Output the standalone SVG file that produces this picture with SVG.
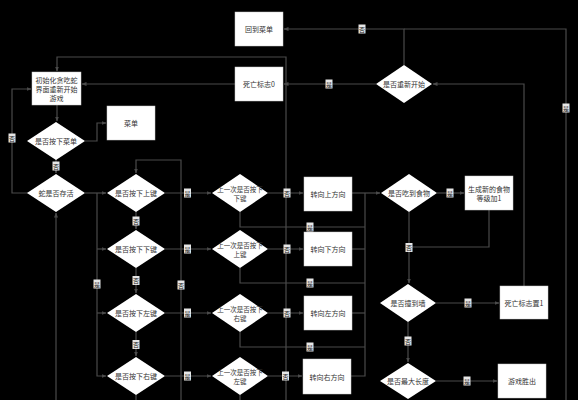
<svg xmlns="http://www.w3.org/2000/svg" width="578" height="400" viewBox="0 0 578 400">
<style>
.bg{fill:#000}
.box{fill:#fff;stroke:#ccc;stroke-width:0.5}
.dia{fill:#fff}
.t{font-family:"Noto Sans CJK SC","Liberation Sans",sans-serif;font-size:7px;fill:#333;text-anchor:middle;dominant-baseline:central}
.t2{font-size:6.5px}
.ln{fill:none;stroke:#4a4a4a;stroke-width:1.2}
.lb rect{fill:#e6e6e6}
.lb text{font-family:"Noto Sans CJK SC","Liberation Sans",sans-serif;font-size:6px;fill:#222;text-anchor:middle;dominant-baseline:central}
</style>
<defs>
<marker id="a" viewBox="0 0 10 10" refX="9" refY="5" markerWidth="5" markerHeight="5" orient="auto" markerUnits="userSpaceOnUse">
<path d="M0,1 L10,5 L0,9 z" fill="#4a4a4a"/>
</marker>
</defs>
<rect class="bg" width="578" height="400"/>
<g id="connectors">
<path class="ln" d="M404,65 V29 H284" marker-end="url(#a)"/>
<path class="ln" d="M404,29 H566 V400"/>
<path class="ln" d="M376,84 H284" marker-end="url(#a)"/>
<path class="ln" d="M235,84 H82" marker-end="url(#a)"/>
<path class="ln" d="M286,400 V57 H57 V71" marker-end="url(#a)"/>
<path class="ln" d="M524,286 V84 H433" marker-end="url(#a)"/>
<path class="ln" d="M28,193 H12 V89 H31" marker-end="url(#a)"/>
<path class="ln" d="M57,105 V121" marker-end="url(#a)"/>
<path class="ln" d="M85,141 H97 V123 H106" marker-end="url(#a)"/>
<path class="ln" d="M56,159 V173" marker-end="url(#a)"/>
<path class="ln" d="M85,193 H106" marker-end="url(#a)"/>
<path class="ln" d="M97,193 V376 H106" marker-end="url(#a)"/>
<path class="ln" d="M97,249 H106" marker-end="url(#a)"/>
<path class="ln" d="M97,313 H106" marker-end="url(#a)"/>
<path class="ln" d="M56,400 V213" marker-end="url(#a)"/>
<path class="ln" d="M136,212 V229" marker-end="url(#a)"/>
<path class="ln" d="M136,268 V293" marker-end="url(#a)"/>
<path class="ln" d="M136,332 V356" marker-end="url(#a)"/>
<path class="ln" d="M136,395 V400"/>
<path class="ln" d="M181,400 V160 H136 V173" marker-end="url(#a)"/>
<path class="ln" d="M165,193 H211" marker-end="url(#a)"/>
<path class="ln" d="M165,249 H211" marker-end="url(#a)"/>
<path class="ln" d="M165,313 H211" marker-end="url(#a)"/>
<path class="ln" d="M165,376 H211" marker-end="url(#a)"/>
<path class="ln" d="M268,193 H303" marker-end="url(#a)"/>
<path class="ln" d="M268,249 H303" marker-end="url(#a)"/>
<path class="ln" d="M268,313 H303" marker-end="url(#a)"/>
<path class="ln" d="M268,376 H302" marker-end="url(#a)"/>
<path class="ln" d="M240,212 V227 H365"/>
<path class="ln" d="M240,268 V283 H365"/>
<path class="ln" d="M240,332 V347 H365"/>
<path class="ln" d="M240,395 V400"/>
<path class="ln" d="M352,193 H380" marker-end="url(#a)"/>
<path class="ln" d="M365,193 V376 H351"/>
<path class="ln" d="M352,249 H365"/>
<path class="ln" d="M352,313 H365"/>
<path class="ln" d="M437,193 H464" marker-end="url(#a)"/>
<path class="ln" d="M409,212 V283" marker-end="url(#a)"/>
<path class="ln" d="M489,210 V247 H409"/>
<path class="ln" d="M436,303 H499" marker-end="url(#a)"/>
<path class="ln" d="M408,322 V362" marker-end="url(#a)"/>
<path class="ln" d="M436,381 H497" marker-end="url(#a)"/>
</g>
<g id="labels">
<g class="lb"><rect x="358.5" y="24.5" width="7" height="9"/><text x="362" y="29">否</text></g>
<g class="lb"><rect x="562.5" y="103.5" width="7" height="9"/><text x="566" y="108">是</text></g>
<g class="lb"><rect x="325.5" y="79.5" width="7" height="9"/><text x="329" y="84">是</text></g>
<g class="lb"><rect x="8.5" y="133.5" width="7" height="9"/><text x="12" y="138">否</text></g>
<g class="lb"><rect x="52.5" y="161.5" width="7" height="9"/><text x="56" y="166">否</text></g>
<g class="lb"><rect x="93.5" y="279.5" width="7" height="9"/><text x="97" y="284">是</text></g>
<g class="lb"><rect x="132.5" y="216.5" width="7" height="9"/><text x="136" y="221">否</text></g>
<g class="lb"><rect x="132.5" y="276" width="7" height="9"/><text x="136" y="280.5">否</text></g>
<g class="lb"><rect x="132.5" y="340" width="7" height="9"/><text x="136" y="344.5">否</text></g>
<g class="lb"><rect x="177.5" y="280.5" width="7" height="9"/><text x="181" y="285">否</text></g>
<g class="lb"><rect x="184" y="188.5" width="7" height="9"/><text x="187.5" y="193">是</text></g>
<g class="lb"><rect x="184" y="244.5" width="7" height="9"/><text x="187.5" y="249">是</text></g>
<g class="lb"><rect x="184" y="308.5" width="7" height="9"/><text x="187.5" y="313">是</text></g>
<g class="lb"><rect x="184" y="371.5" width="7" height="9"/><text x="187.5" y="376">是</text></g>
<g class="lb"><rect x="283.5" y="188.5" width="7" height="9"/><text x="287" y="193">否</text></g>
<g class="lb"><rect x="283.5" y="244.5" width="7" height="9"/><text x="287" y="249">否</text></g>
<g class="lb"><rect x="283.5" y="308.5" width="7" height="9"/><text x="287" y="313">否</text></g>
<g class="lb"><rect x="282" y="371.5" width="7" height="9"/><text x="285.5" y="376">否</text></g>
<g class="lb"><rect x="306.5" y="222.5" width="7" height="9"/><text x="310" y="227">是</text></g>
<g class="lb"><rect x="306.5" y="278.5" width="7" height="9"/><text x="310" y="283">是</text></g>
<g class="lb"><rect x="306.5" y="342.5" width="7" height="9"/><text x="310" y="347">是</text></g>
<g class="lb"><rect x="446.5" y="188.5" width="7" height="9"/><text x="450" y="193">是</text></g>
<g class="lb"><rect x="405.5" y="243" width="7" height="9"/><text x="409" y="247.5">否</text></g>
<g class="lb"><rect x="464.5" y="298.5" width="7" height="9"/><text x="468" y="303">是</text></g>
<g class="lb"><rect x="404.5" y="336.5" width="7" height="9"/><text x="408" y="341">否</text></g>
<g class="lb"><rect x="463.5" y="376.5" width="7" height="9"/><text x="467" y="381">是</text></g>
</g>
<g id="n_back_menu"><rect class="box" x="235" y="12" width="48" height="34"/><text class="t" x="259" y="29">回到菜单</text></g>
<g id="n_dead0"><rect class="box" x="235" y="67" width="48" height="34"/><text class="t" x="259" y="84">死亡标志0</text></g>
<g id="n_init"><rect class="box" x="32" y="72" width="49" height="33"/><text class="t" x="56.5" y="80">初始化贪吃蛇</text><text class="t" x="56.5" y="89">界面重新开始</text><text class="t" x="56.5" y="98">游戏</text></g>
<g id="n_menu"><rect class="box" x="107" y="106" width="48" height="34"/><text class="t" x="131" y="123">菜单</text></g>
<g id="n_ask_menu"><path class="dia" d="M56,122 L85,141 L56,160 L27,141 z"/><text class="t" x="56" y="141">是否按下菜单</text></g>
<g id="n_alive"><path class="dia" d="M56,174 L85,193 L56,212 L27,193 z"/><text class="t" x="56" y="193">蛇是否存活</text></g>
<g id="n_up"><path class="dia" d="M136,174 L165,193 L136,212 L107,193 z"/><text class="t" x="136" y="193">是否按下上键</text></g>
<g id="n_down"><path class="dia" d="M136,230 L165,249 L136,268 L107,249 z"/><text class="t" x="136" y="249">是否按下下键</text></g>
<g id="n_left"><path class="dia" d="M136,294 L165,313 L136,332 L107,313 z"/><text class="t" x="136" y="313">是否按下左键</text></g>
<g id="n_right"><path class="dia" d="M136,357 L165,376 L136,395 L107,376 z"/><text class="t" x="136" y="376">是否按下右键</text></g>
<g id="n_prev_down"><path class="dia" d="M240,174 L268,193 L240,212 L212,193 z"/><text class="t t2" x="240" y="188.5">上一次是否按下</text><text class="t t2" x="240" y="197.5">下键</text></g>
<g id="n_prev_up"><path class="dia" d="M240,230 L268,249 L240,268 L212,249 z"/><text class="t t2" x="240" y="244.5">上一次是否按下</text><text class="t t2" x="240" y="253.5">上键</text></g>
<g id="n_prev_right"><path class="dia" d="M240,294 L268,313 L240,332 L212,313 z"/><text class="t t2" x="240" y="308.5">上一次是否按下</text><text class="t t2" x="240" y="317.5">右键</text></g>
<g id="n_prev_left"><path class="dia" d="M240,357 L268,376 L240,395 L212,376 z"/><text class="t t2" x="240" y="371.5">上一次是否按下</text><text class="t t2" x="240" y="380.5">左键</text></g>
<g id="n_turn_up"><rect class="box" x="304" y="177" width="48" height="34"/><text class="t" x="328" y="194">转向上方向</text></g>
<g id="n_turn_down"><rect class="box" x="304" y="232" width="48" height="34"/><text class="t" x="328" y="249">转向下方向</text></g>
<g id="n_turn_left"><rect class="box" x="304" y="296" width="48" height="34"/><text class="t" x="328" y="313">转向左方向</text></g>
<g id="n_turn_right"><rect class="box" x="303" y="359" width="48" height="35"/><text class="t" x="327" y="376.5">转向右方向</text></g>
<g id="n_eat"><path class="dia" d="M409,174 L437,193 L409,212 L381,193 z"/><text class="t" x="409" y="193">是否吃到食物</text></g>
<g id="n_food"><rect class="box" x="465" y="176" width="48" height="34"/><text class="t" x="489" y="189">生成新的食物</text><text class="t" x="489" y="198">等级加1</text></g>
<g id="n_wall"><path class="dia" d="M408,284 L436,303 L408,322 L380,303 z"/><text class="t" x="408" y="303">是否撞到墙</text></g>
<g id="n_dead1"><rect class="box" x="500" y="286" width="48" height="33"/><text class="t" x="524" y="303">死亡标志置1</text></g>
<g id="n_maxlen"><path class="dia" d="M408,363 L436,381 L408,399 L380,381 z"/><text class="t" x="408" y="381">是否最大长度</text></g>
<g id="n_win"><rect class="box" x="498" y="364" width="48" height="34"/><text class="t" x="522" y="381">游戏胜出</text></g>
<g id="n_restart"><path class="dia" d="M404,65 L432,84 L404,103 L376,84 z"/><text class="t" x="404" y="84">是否重新开始</text></g>
</svg>
